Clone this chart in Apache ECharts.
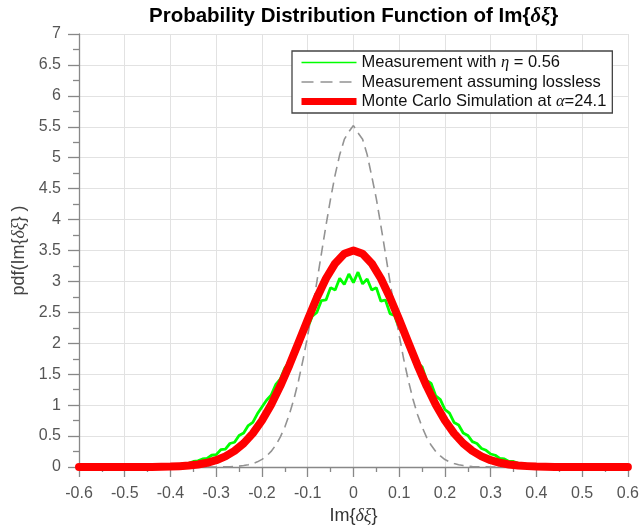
<!DOCTYPE html>
<html><head><meta charset="utf-8">
<script src="https://cdn.jsdelivr.net/npm/echarts@6/dist/echarts.min.js"></script>
<style>html,body{margin:0;padding:0;background:#fff}#c{width:642px;height:531px}</style>
</head><body><div id="c"></div>
<script>
const xTickLabels = ['-0.6','-0.5','-0.4','-0.3','-0.2','-0.1','0','0.1','0.2','0.3','0.4','0.5','0.6'];
const yTickLabels = ['0','0.5','1','1.5','2','2.5','3','3.5','4','4.5','5','5.5','6','6.5','7'];
const seriesNames = ['Measurement with η = 0.56','Measurement assuming lossless','Monte Carlo Simulation at α=24.1'];

// Measured with eta = 0.56 (x from -0.60 to 0.60, step 0.01)
const measuredEta = [
  0,0.01,0,0.01,0,0.01,0,0.01,0.01,0,0.01,
  0.01,0,0.01,0.01,0.02,0.01,0.02,0.03,0.02,
  0.02,0.04,0.04,0.06,0.06,0.09,0.10,0.13,0.14,0.19,
  0.20,0.28,0.29,0.38,0.40,0.51,0.55,0.67,0.72,0.86,
  0.97,1.08,1.16,1.33,1.42,1.60,1.70,1.89,1.98,2.17,
  2.25,2.44,2.50,2.69,2.70,2.90,2.86,3.05,2.95,3.12,
  2.98,
  3.15,2.96,3.04,2.86,2.90,2.68,2.70,2.48,2.45,2.24,
  2.18,1.96,1.90,1.68,1.62,1.40,1.35,1.15,1.09,0.93,
  0.87,0.72,0.68,0.55,0.51,0.41,0.38,0.30,0.27,0.21,
  0.19,0.14,0.13,0.09,0.09,0.06,0.06,0.04,0.04,0.02,
  0.02,0.03,0.01,0.02,0.01,0.01,0,0.01,0,0.01,
  0,0.01,0,0,0.01,0,0,0.01,0,0
];
// Lossless assumption (x from -0.60 to 0.60, step 0.01)
const measuredLossless = [
  0,0,0,0,0,0,0,0,0,0,
  0,0,0,0,0,0,0,0,0,0,
  0,0,0,0,0,0,0,0,0,0,
  0.001,0.002,0.003,0.005,0.009,0.014,0.023,0.036,0.055,0.083,
  0.123,0.177,0.252,0.352,0.482,0.647,0.853,1.102,1.398,1.740,
  2.125,2.545,2.992,3.451,3.906,4.336,4.723,5.049,5.295,5.42,
  5.52,
  5.40,5.30,5.05,4.70,4.34,3.90,3.45,2.99,2.55,2.13,
  1.74,1.40,1.10,0.85,0.65,0.48,0.35,0.25,0.18,0.12,
  0.083,0.055,0.036,0.023,0.014,0.009,0.005,0.003,0.002,0.001,
  0,0,0,0,0,0,0,0,0,0,
  0,0,0,0,0,0,0,0,0,0,
  0,0,0,0,0,0,0,0,0,0
];
// Monte Carlo (x from -0.60 to 0.60, step 0.02)
const monteCarlo = [
  0,0,0,0,0,0,0,0.001,0.002,0.004,
  0.007,0.014,0.024,0.041,0.068,0.11,0.172,0.26,0.382,0.544,
  0.751,1.007,1.308,1.647,2.012,2.382,2.736,3.047,3.291,3.446,
  3.5,
  3.446,3.291,3.047,2.736,2.382,2.012,1.647,1.308,1.007,0.751,
  0.544,0.382,0.26,0.172,0.11,0.068,0.041,0.024,0.014,0.007,
  0.004,0.002,0.001,0,0,0,0,0,0,0
];

function pairs(vals, x0, step) {
  return vals.map((v, i) => [Math.round((x0 + i * step) * 1000) / 1000, v]);
}

const FONT = 'Liberation Sans, Arial, sans-serif';
const chart = echarts.init(document.getElementById('c'), null, {renderer: 'canvas'});
const italic = {fontStyle: 'italic', fontFamily: 'Liberation Serif, serif'};
const GREEN = '#00ff00', GRAY = '#939393', RED = '#ff0000';

chart.setOption({
  animation: false,
  backgroundColor: '#fff',
  title: {
    text: 'Probability Distribution Function of Im{{i|δξ}}',
    left: 149, top: 6, padding: 0,
    textStyle: {fontSize: 20.5, fontWeight: 'bold', color: '#000', fontFamily: FONT,
      rich: {i: Object.assign({fontSize: 20.5, fontWeight: 'bold', color: '#000'}, italic)}}
  },
  grid: {left: 79, right: 13, top: 34, bottom: 64, containLabel: false},
  legend: {
    orient: 'vertical', left: 292, top: 51,
    itemWidth: 55, itemHeight: 14, itemGap: 2.5,
    padding: [3, 6, 3, 6],
    backgroundColor: '#fff', borderColor: '#444', borderWidth: 1.3, borderRadius: 0,
    itemStyle: {color: 'rgba(0,0,0,0)', borderWidth: 0, opacity: 0},
    lineStyle: {width: 'inherit'},
    data: [
      {name: seriesNames[0], lineStyle: {color: GREEN, width: 1.6}},
      {name: seriesNames[1], lineStyle: {color: GRAY, width: 1.6, type: [12, 7]}},
      {name: seriesNames[2], lineStyle: {color: RED, width: 7, cap: 'butt'}}
    ],
    formatter: function (n) {
      if (n === seriesNames[0]) return 'Measurement with {i|η} = 0.56';
      if (n === seriesNames[2]) return 'Monte Carlo Simulation at {i|α}=24.1';
      return n;
    },
    textStyle: {fontSize: 16.5, color: '#111', fontFamily: FONT, lineHeight: 16,
      rich: {i: Object.assign({fontSize: 16.5, color: '#111'}, italic)}}
  },
  xAxis: {
    type: 'value', min: -0.6, max: 0.6, interval: 0.1,
    name: 'Im{{i|δξ}}', nameLocation: 'middle', nameGap: 39,
    nameTextStyle: {fontSize: 18, color: '#333', fontFamily: FONT,
      rich: {i: Object.assign({fontSize: 18, color: '#333'}, italic)}},
    axisLine: {show: true, onZero: false, lineStyle: {color: '#888', width: 1.3}},
    axisTick: {show: true, inside: false, length: 10, lineStyle: {color: '#888', width: 1.3}},
    minorTick: {show: true, splitNumber: 2, length: 5, lineStyle: {color: '#888', width: 1.3}},
    axisLabel: {fontSize: 16, color: '#555', fontFamily: FONT, margin: 19,
      formatter: v => xTickLabels[Math.round((v + 0.6) / 0.1)]},
    splitLine: {show: true, lineStyle: {color: '#e2e2e2', width: 1}}
  },
  yAxis: {
    type: 'value', min: 0, max: 7, interval: 0.5,
    name: 'pdf(Im{{i|δξ}} )', nameLocation: 'middle', nameGap: 45,
    nameTextStyle: {fontSize: 18, color: '#444', fontFamily: FONT,
      rich: {i: Object.assign({fontSize: 18, color: '#444'}, italic)}},
    axisLine: {show: true, onZero: false, lineStyle: {color: '#888', width: 1.3}},
    axisTick: {show: true, inside: false, length: 11, lineStyle: {color: '#888', width: 1.3}},
    minorTick: {show: true, splitNumber: 2, length: 6, lineStyle: {color: '#888', width: 1.3}},
    axisLabel: {fontSize: 16, color: '#555', fontFamily: FONT, margin: 18,
      formatter: v => yTickLabels[Math.round(v / 0.5)]},
    splitLine: {show: true, lineStyle: {color: '#e2e2e2', width: 1}}
  },
  series: [
    {name: seriesNames[0], type: 'line', symbol: 'none', data: pairs(measuredEta, -0.6, 0.01),
      lineStyle: {color: GREEN, width: 2.8}, itemStyle: {color: GREEN}, z: 2},
    {name: seriesNames[1], type: 'line', symbol: 'none', data: pairs(measuredLossless, -0.6, 0.01),
      lineStyle: {color: GRAY, width: 1.6, type: [10, 6]}, itemStyle: {color: GRAY}, z: 3},
    {name: seriesNames[2], type: 'line', symbol: 'none', data: pairs(monteCarlo, -0.6, 0.02),
      lineStyle: {color: RED, width: 8, cap: 'round', join: 'round'}, itemStyle: {color: RED}, z: 4}
  ]
});
</script>
</body></html>
